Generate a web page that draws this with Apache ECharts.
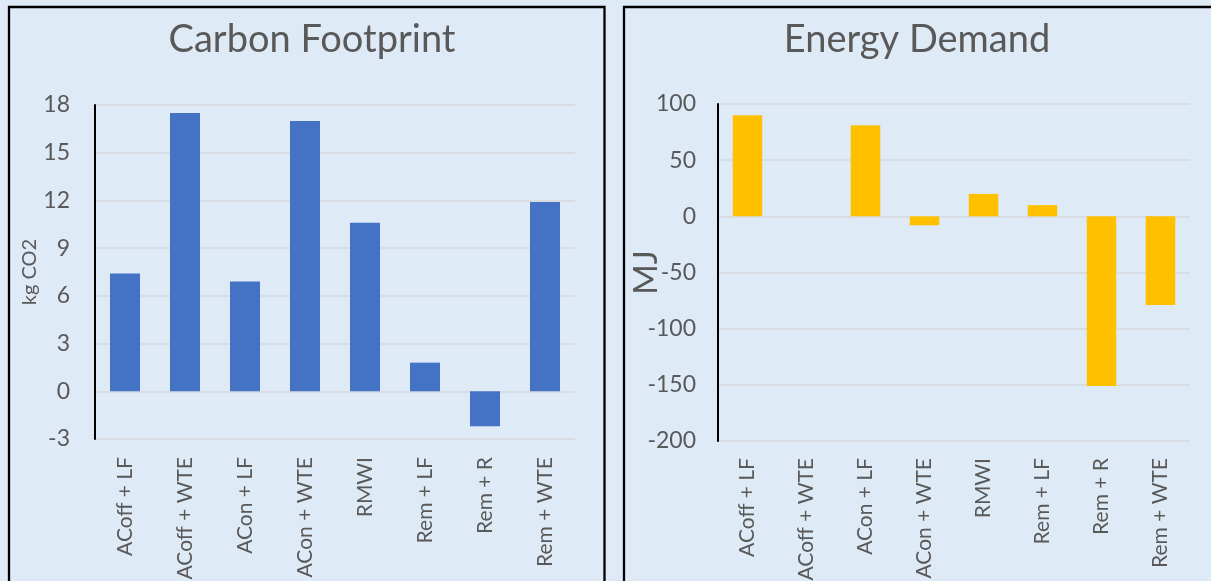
<!DOCTYPE html>
<html>
<head>
<meta charset="utf-8">
<script src="https://cdn.jsdelivr.net/npm/echarts@6/dist/echarts.min.js"></script>
<style>
  html, body { margin: 0; padding: 0; background: #deeaf6; }
  #chart { width: 1211px; height: 581px; }
</style>
</head>
<body>
<div id="chart"></div>
<script>
// categories shared by both panels
const categories = ['ACoff + LF', 'ACoff + WTE', 'ACon + LF', 'ACon + WTE', 'RMWI', 'Rem + LF', 'Rem + R', 'Rem + WTE'];
// kg CO2
const carbonValues = [7.4, 17.5, 6.9, 17.0, 10.6, 1.8, -2.2, 11.9];
// MJ
const energyValues = [90, 0, 81, -8, 20, 10, -151, -79];
// y axis ticks
const carbonTicks = { min: -3, max: 18, interval: 3 };
const energyTicks = { min: -200, max: 100, interval: 50 };

const textColor = '#595959';
const font = 'Lato';
const chart = echarts.init(document.getElementById('chart'));

function xAxisFor(gridIndex, margin) {
  return {
    type: 'category',
    gridIndex: gridIndex,
    data: categories,
    position: 'bottom',
    axisLine: { show: false, onZero: false },
    axisTick: { show: false },
    axisLabel: { rotate: 90, margin: margin, color: textColor, fontFamily: font, fontSize: 21 }
  };
}

function yAxisFor(gridIndex, ticks, name, nameSize, labelMargin) {
  return {
    type: 'value',
    gridIndex: gridIndex,
    min: ticks.min,
    max: ticks.max,
    interval: ticks.interval,
    name: name,
    nameLocation: 'middle',
    nameGap: 55,
    nameMoveOverlap: false,
    nameTextStyle: { color: textColor, fontFamily: font, fontSize: nameSize },
    axisLine: { show: true, lineStyle: { color: '#000', width: 2 } },
    axisTick: { show: false },
    axisLabel: { margin: labelMargin, color: textColor, fontFamily: font, fontSize: 23 },
    splitLine: { lineStyle: { color: '#d6d9dd', width: 1.5 } }
  };
}

const option = {
  backgroundColor: '#deeaf6',
  animation: false,
  title: [
    { text: 'Carbon Footprint', left: 307, top: 16, textAlign: 'center',
      textStyle: { color: textColor, fontFamily: font, fontWeight: 'normal', fontSize: 38 } },
    { text: 'Energy Demand', left: 912, top: 16, textAlign: 'center',
      textStyle: { color: textColor, fontFamily: font, fontWeight: 'normal', fontSize: 38 } }
  ],
  grid: [
    { left: 95, right: 636, top: 105, bottom: 142, outerBoundsMode: 'none' },
    { left: 718, right: 21, top: 104, bottom: 140, outerBoundsMode: 'none' }
  ],
  xAxis: [xAxisFor(0, 18), xAxisFor(1, 17)],
  yAxis: [
    yAxisFor(0, carbonTicks, 'kg CO2', 20, 25),
    yAxisFor(1, energyTicks, 'MJ', 33, 22)
  ],
  series: [
    {
      type: 'bar', xAxisIndex: 0, yAxisIndex: 0, data: carbonValues, barWidth: '50%',
      itemStyle: { color: '#4472c4' }
    },
    {
      type: 'bar', xAxisIndex: 1, yAxisIndex: 1, data: energyValues, barWidth: '50%',
      itemStyle: { color: '#ffc000' }
    }
  ],
  graphic: [
    // panel frames
    { type: 'rect', shape: { x: 9, y: 7, width: 595.5, height: 620 },
      style: { fill: null, stroke: '#000', lineWidth: 2.3 }, z: 100 },
    { type: 'rect', shape: { x: 624, y: 7, width: 700, height: 620 },
      style: { fill: null, stroke: '#000', lineWidth: 2.3 }, z: 100 }
  ]
};

chart.setOption(option);
</script>
</body>
</html>
